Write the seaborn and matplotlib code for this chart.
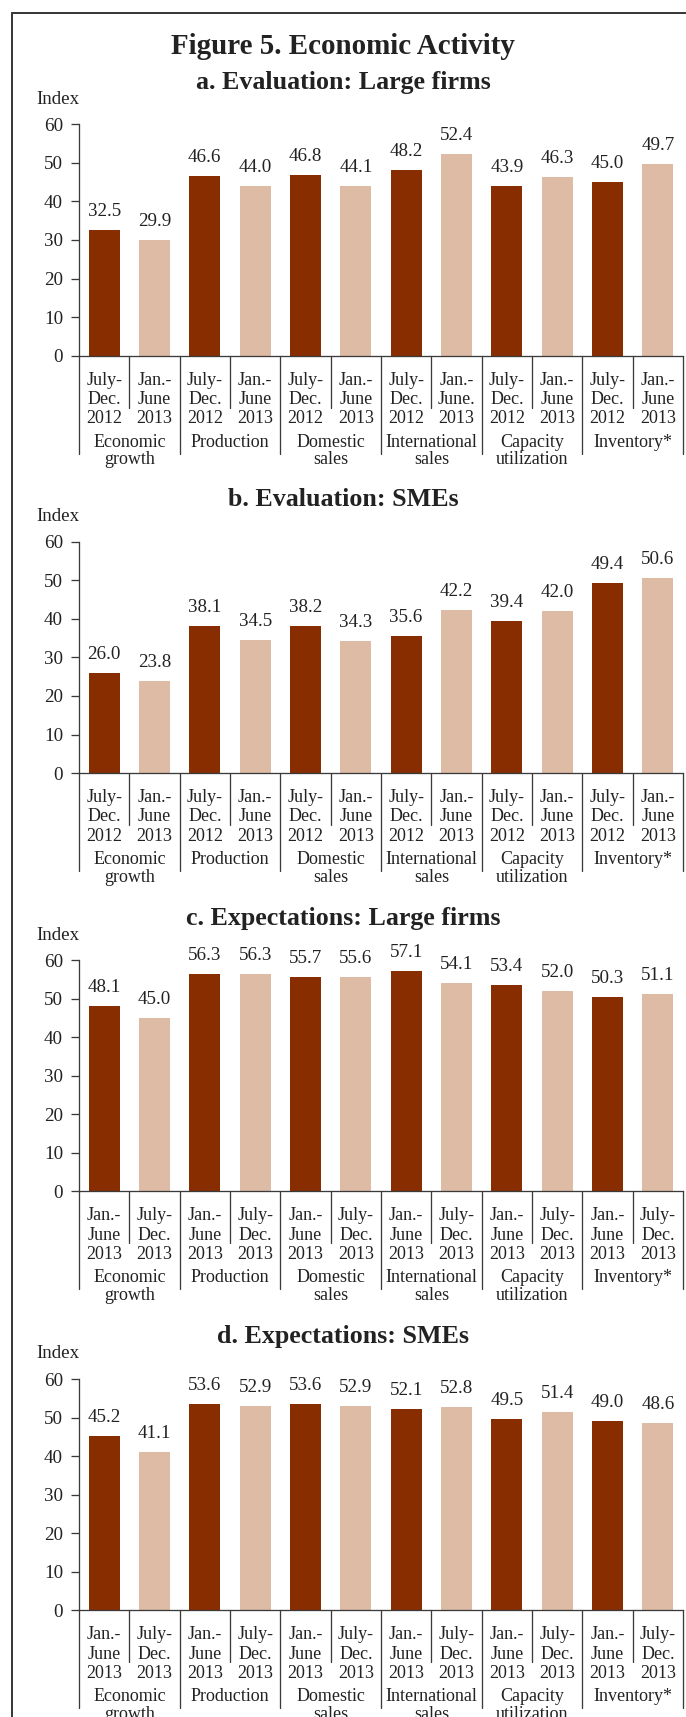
import numpy as np
import pandas as pd
import matplotlib
matplotlib.use("Agg")
import matplotlib.pyplot as plt
import matplotlib.transforms as mtransforms
from matplotlib.lines import Line2D
import seaborn as sns

# ---------------- data ----------------
categories = ["Economic\ngrowth", "Production", "Domestic\nsales",
              "International\nsales", "Capacity\nutilization", "Inventory*"]

titles = ["a. Evaluation: Large firms", "b. Evaluation: SMEs",
          "c. Expectations: Large firms", "d. Expectations: SMEs"]

periods_eval = ["July-Dec. 2012", "Jan.-June 2013"]
periods_exp = ["Jan.-June 2013", "July-Dec. 2013"]

ticks_a = ["July-\nDec.\n2012", "Jan.-\nJune\n2013"] * 3 + \
          ["July-\nDec.\n2012", "Jan.-\nJune.\n2013"] + \
          ["July-\nDec.\n2012", "Jan.-\nJune\n2013"] * 2
ticks_b = ["July-\nDec.\n2012", "Jan.-\nJune\n2013"] * 6
ticks_c = ["Jan.-\nJune\n2013", "July-\nDec.\n2013"] * 6
ticks_d = ["Jan.-\nJune\n2013", "July-\nDec.\n2013"] * 6

a_first = [32.5, 46.6, 46.8, 48.2, 43.9, 45.0]
a_second = [29.9, 44.0, 44.1, 52.4, 46.3, 49.7]
b_first = [26.0, 38.1, 38.2, 35.6, 39.4, 49.4]
b_second = [23.8, 34.5, 34.3, 42.2, 42.0, 50.6]
c_first = [48.1, 56.3, 55.7, 57.1, 53.4, 50.3]
c_second = [45.0, 56.3, 55.6, 54.1, 52.0, 51.1]
d_first = [45.2, 53.6, 53.6, 52.1, 49.5, 49.0]
d_second = [41.1, 52.9, 52.9, 52.8, 51.4, 48.6]

yticks = [0, 10, 20, 30, 40, 50, 60]

# ---------------- style ----------------
DARK = "#882D00"
LIGHT = "#DEBBA5"
INK = "#222222"
LINE = "#3a3a3a"

W, H, DPI = 686, 1717, 72
sns.set_theme(style="ticks")
plt.rcParams["font.family"] = ["Liberation Serif", "DejaVu Serif"]

fig = plt.figure(figsize=(W / DPI, H / DPI), dpi=DPI)
fig.patch.set_facecolor("white")

AX_LEFT, AX_RIGHT = 79, 683
AX_H = 231.4
tops = [124.3, 541.7, 960.0, 1379.0]

panels = [
    (titles[0], periods_eval, a_first, a_second, ticks_a),
    (titles[1], periods_eval, b_first, b_second, ticks_b),
    (titles[2], periods_exp, c_first, c_second, ticks_c),
    (titles[3], periods_exp, d_first, d_second, ticks_d),
]

fig.text(0.5, 1 - 46 / H, "Figure 5. Economic Activity", ha="center", va="center",
         fontsize=29, fontweight="bold", color=INK)

for (title, periods, first, second, ticks), top in zip(panels, tops):
    ax = fig.add_axes([AX_LEFT / W, 1 - (top + AX_H) / H,
                       (AX_RIGHT - AX_LEFT) / W, AX_H / H])
    df = pd.DataFrame({
        "category": categories * 2,
        "period": [periods[0]] * 6 + [periods[1]] * 6,
        "value": first + second,
    })
    sns.barplot(data=df, x="category", y="value", hue="period",
                order=categories, hue_order=periods, palette=[DARK, LIGHT],
                width=1.0, gap=0.39, dodge=True, saturation=1, errorbar=None,
                legend=False, linewidth=0, ax=ax)
    ax.set_xlim(-0.5, 5.5)
    ax.set_ylim(0, 60)
    ax.set_yticks(yticks)
    ax.set_xticks([])
    ax.set_xlabel("")
    ax.set_ylabel("")
    sns.despine(ax=ax)
    for s in ("left", "bottom"):
        ax.spines[s].set_color(LINE)
        ax.spines[s].set_linewidth(1.3)
    ax.tick_params(axis="y", direction="out", length=8, width=1.3, color=LINE,
                   pad=8, labelsize=19, labelcolor=INK)

    for cont in ax.containers:
        ax.bar_label(cont, fmt="%.1f", padding=10, fontsize=19, color=INK)

    blend = mtransforms.blended_transform_factory(ax.transData, ax.transAxes)
    # period labels under each bar
    for k, cont in enumerate(ax.containers):
        for i, bar in enumerate(cont):
            xc = bar.get_x() + bar.get_width() / 2
            ax.annotate(ticks[2 * i + k], xy=(xc, 0), xycoords=blend,
                        xytext=(0, -16), textcoords="offset points",
                        ha="center", va="top", fontsize=18, color=INK,
                        linespacing=1.17, annotation_clip=False)
    # category labels and separators
    for i, cat in enumerate(categories):
        ax.annotate(cat, xy=(i, 0), xycoords=blend, xytext=(0, -78),
                    textcoords="offset points", ha="center", va="top",
                    fontsize=18, color=INK, linespacing=1.05,
                    annotation_clip=False)
        ax.plot([i, i], [0, -52 / AX_H], transform=blend, color=LINE,
                lw=1.3, clip_on=False)
    for xb in np.arange(-0.5, 6.0, 1.0):
        ax.plot([xb, xb], [0, -98 / AX_H], transform=blend, color=LINE,
                lw=1.3, clip_on=False)

    fig.text(36 / W, 1 - (top - 25) / H, "Index", ha="left", va="center",
             fontsize=19, color=INK)
    fig.text(0.5, 1 - (top - 42) / H, title, ha="center", va="center",
             fontsize=26, fontweight="bold", color=INK)

# outer frame (left and top edges)
fig.add_artist(Line2D([12 / W, 12 / W], [0, 1 - 13 / H], transform=fig.transFigure,
                      color=LINE, lw=2))
fig.add_artist(Line2D([12 / W, 1], [1 - 13 / H, 1 - 13 / H], transform=fig.transFigure,
                      color=LINE, lw=2))

fig.savefig("out.png", dpi=DPI, facecolor="white")
